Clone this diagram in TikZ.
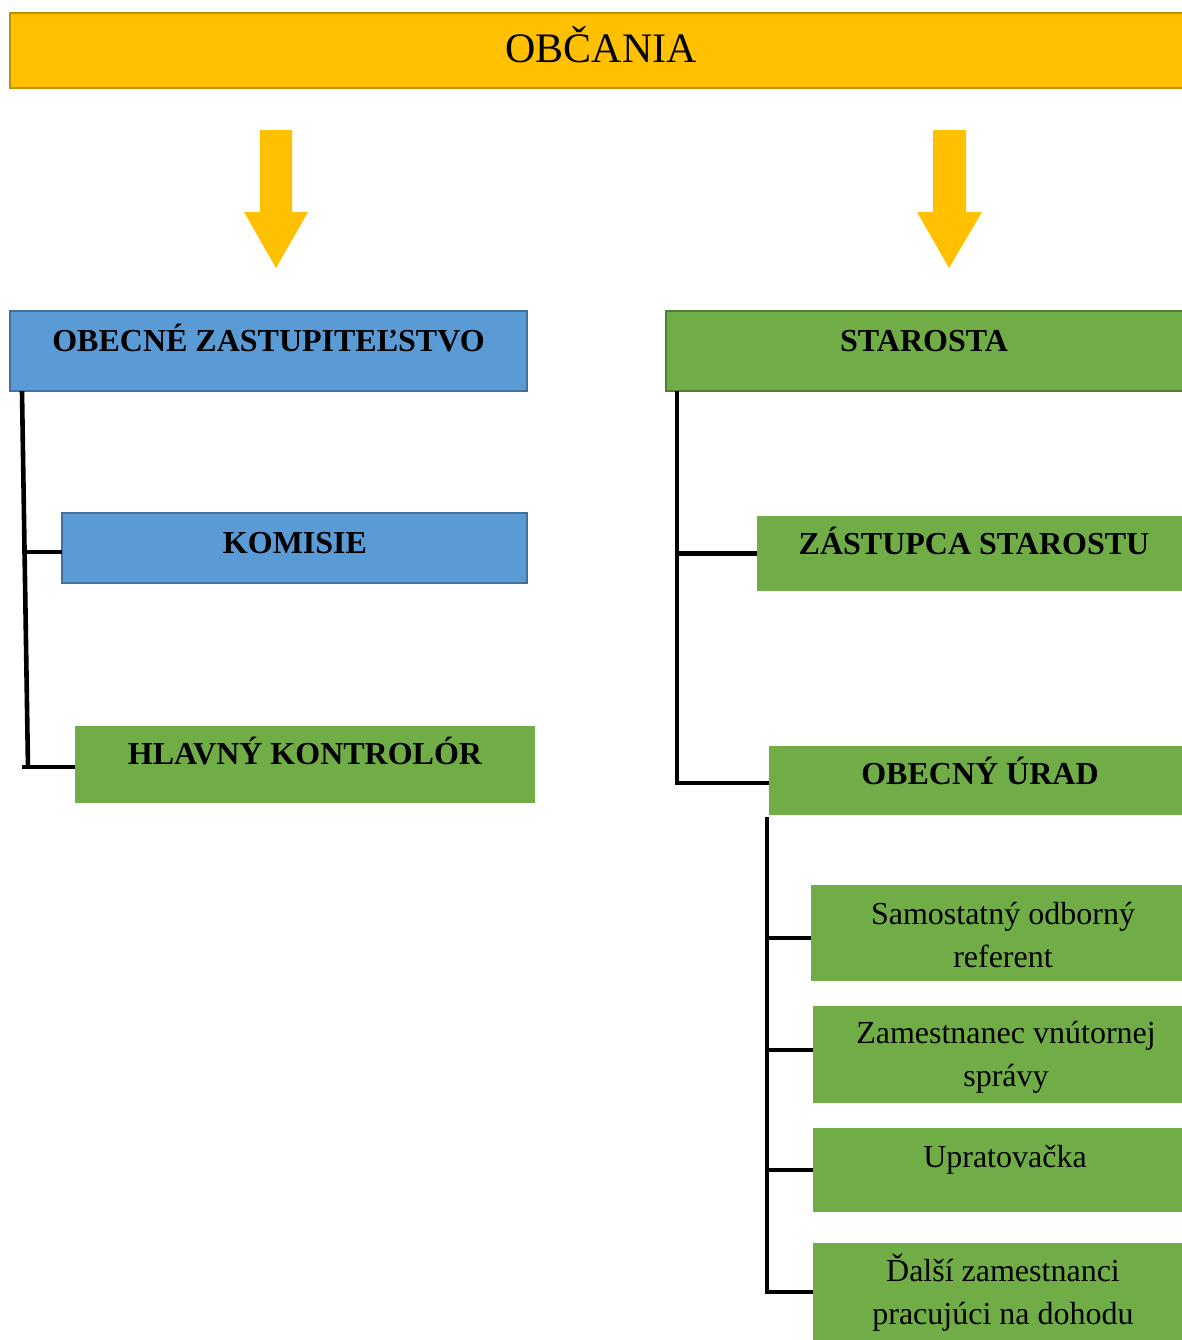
\documentclass[tikz,border=0pt]{standalone}
\usepackage{fontspec}
\setmainfont{Liberation Serif}
\usetikzlibrary{fit}
\definecolor{gold}{HTML}{FFC000}
\definecolor{golddark}{HTML}{BF9000}
\definecolor{bl}{HTML}{5B9BD5}
\definecolor{bldark}{HTML}{41719C}
\definecolor{gr}{HTML}{70AD47}
\definecolor{grdark}{HTML}{507E32}
\begin{document}
\begin{tikzpicture}[x=0.5pt,y=-0.5pt,
  box/.style={inner sep=0pt, outer sep=0pt},
  goldbox/.style={box, fill=gold, draw=golddark, line width=1pt},
  bluebox/.style={box, fill=bl, draw=bldark, line width=1pt},
  greenbox/.style={box, fill=gr},
  greenframed/.style={greenbox, draw=grdark, line width=1pt},
  title/.style={font=\fontsize{21}{25}\selectfont, anchor=base, inner sep=0pt},
  head/.style={font=\fontsize{16}{21.5}\selectfont\bfseries, anchor=base, inner sep=0pt},
  body/.style={font=\fontsize{16}{21.5}\selectfont, anchor=base, inner sep=0pt, align=center},
  conn/.style={line width=2.3pt, black},
  bigarrow/.style={fill=gold}]
\useasboundingbox (0,0) rectangle (1182,1340);
\clip (0,0) rectangle (1182,1340);

% top bar
\node[goldbox, fit={(10,13) (1195,88)}] (obc) {};
\node[title] (obct) at (601,62) {OBČANIA};

% arrows
\fill[bigarrow] (260,130) -- (292,130) -- (292,212) -- (308,212) -- (276,268) -- (244,212) -- (260,212) -- cycle;
\fill[bigarrow] (933,130) -- (966,130) -- (966,212) -- (982,212) -- (949,268) -- (917,212) -- (933,212) -- cycle;

% left branch
\node[bluebox, fit={(10,311) (527,391)}] (oz) {};
\node[head] (ozt) at (268.5,351.6) {OBECNÉ ZASTUPITEĽSTVO};
\node[bluebox, fit={(62,513) (527,583)}] (kom) {};
\node[head] (komt) at (295,553.6) {KOMISIE};
\node[greenbox, fit={(75,726) (535,803)}] (hk) {};
\node[head] (hkt) at (305,764.6) {HLAVNÝ KONTROLÓR};

% right branch
\node[greenframed, fit={(666,311) (1195,391)}] (st) {};
\node[head] (stt) at (924,351.6) {STAROSTA};
\node[greenbox, fit={(757,516) (1195,591)}] (zs) {};
\node[head] (zst) at (974,554.6) {ZÁSTUPCA STAROSTU};
\node[greenbox, fit={(769,746) (1195,815)}] (ou) {};
\node[head] (out) at (980,784.6) {OBECNÝ ÚRAD};

\node[greenbox, fit={(811,885) (1195,981)}] (sor) {};
\node[body] (sort) at (1003,967.6) {Samostatný odborný\\referent};
\node[greenbox, fit={(813,1006) (1195,1103)}] (zvs) {};
\node[body] (zvst) at (1006,1086.6) {Zamestnanec vnútornej\\správy};
\node[greenbox, fit={(813,1128) (1195,1212)}] (up) {};
\node[body] (upt) at (1005,1167.6) {Upratovačka};
\node[greenbox, fit={(813,1243) (1195,1341)}] (dz) {};
\node[body] (dzt) at (1003,1324.6) {Ďalší zamestnanci\\pracujúci na dohodu};

% connectors left
\coordinate (ltop) at (22,391);
\coordinate (lbot) at (28,768);
\draw[conn] (ltop) -- (lbot);
\draw[conn] ([yshift=-2pt]kom.west) -- ++(-40,0);
\draw[conn] ([yshift=-1.25pt]hk.west) -- ++(-53,0);

% connectors right
\coordinate (rtop) at (677,391);
\draw[conn] (rtop) |- ([yshift=-1.25pt]ou.west);
\draw[conn] (zs.west) -- (zs.west -| rtop);

\coordinate (utop) at (767,817);
\draw[conn] (utop) |- (dz.west);
\draw[conn] ([yshift=-2.5pt]sor.west) -- ([yshift=-2.5pt]sor.west -| utop);
\draw[conn] ([yshift=2.25pt]zvs.west) -- ([yshift=2.25pt]zvs.west -| utop);
\draw[conn] (up.west) -- (up.west -| utop);
\end{tikzpicture}
\end{document}
